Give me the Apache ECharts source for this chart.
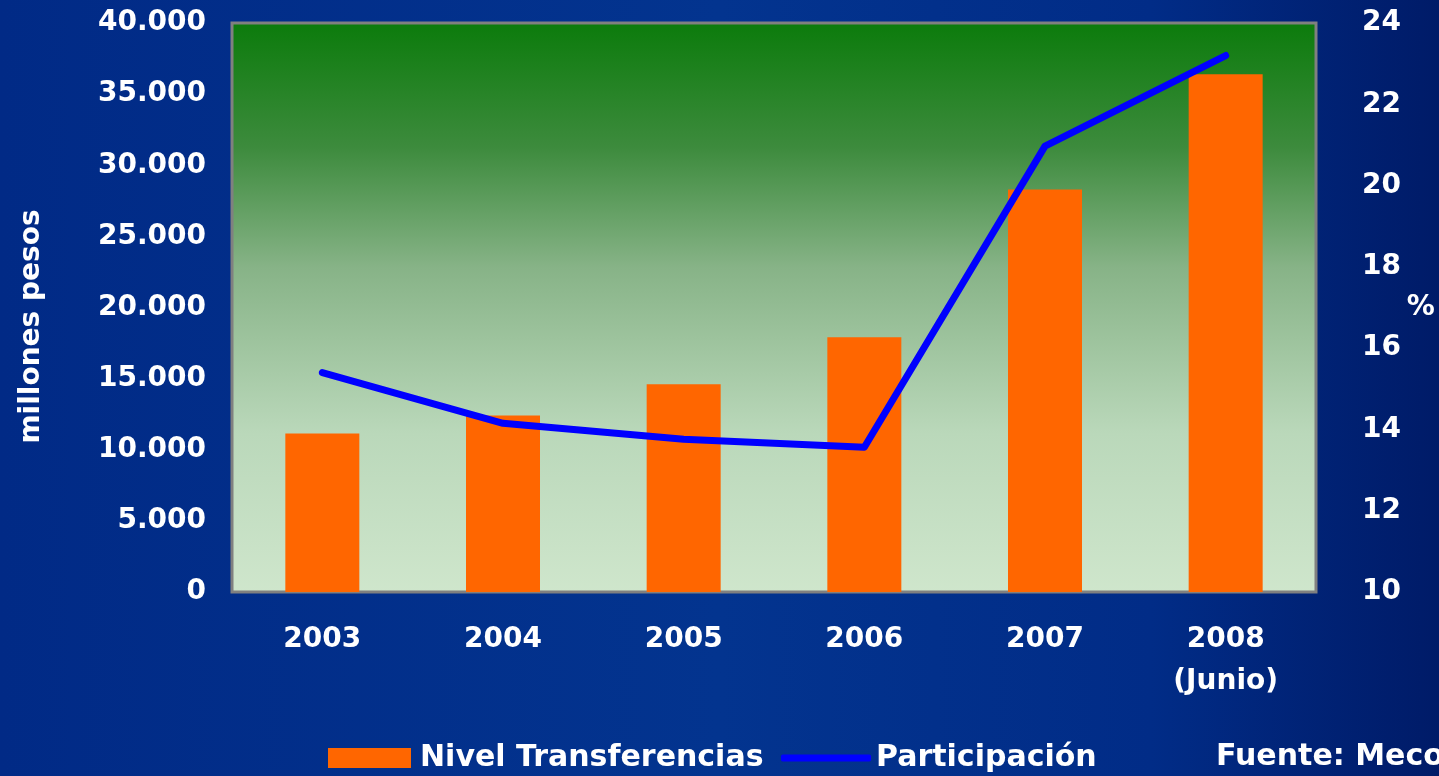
<!DOCTYPE html>
<html>
<head>
<meta charset="utf-8">
<title>Transferencias</title>
<script src="https://cdn.jsdelivr.net/npm/echarts@6/dist/echarts.min.js"></script>
<style>
html, body { margin: 0; padding: 0; }
#chart { width: 1439px; height: 776px; }
</style>
</head>
<body>
<div id="chart"></div>
<script>
// datos
const categories = ['2003', '2004', '2005', '2006', '2007', '2008\n(Junio)'];
const transferencias = [11150, 12400, 14600, 17900, 28300, 36400]; // millones pesos
const participacion = [15.4, 14.15, 13.76, 13.56, 20.97, 23.2];     // %
const leftTicks = { min: 0, max: 40000, interval: 5000 };
const rightTicks = { min: 10, max: 24, interval: 2 };

const FONT = 'DejaVu Sans';
const labelStyle = { color: '#fff', fontFamily: FONT, fontWeight: 'bold', fontSize: 28 };

const chart = echarts.init(document.getElementById('chart'));

const option = {
    backgroundColor: {
        type: 'linear', x: 0, y: 0, x2: 1, y2: 0,
        colorStops: [
            { offset: 0, color: '#012a86' },
            { offset: 0.5, color: '#03348f' },
            { offset: 0.8, color: '#012c87' },
            { offset: 1, color: '#001b68' }
        ]
    },
    grid: {
        left: 232, right: 123, top: 23, bottom: 184,
        outerBoundsMode: 'none',
        containLabel: false,
        show: true,
        borderColor: '#808080',
        borderWidth: 3,
        backgroundColor: {
            type: 'linear', x: 0, y: 0, x2: 0, y2: 1,
            colorStops: [
                { offset: 0, color: '#0b7b0b' },
                { offset: 0.22, color: '#3d8b3d' },
                { offset: 0.43, color: '#87b387' },
                { offset: 0.72, color: '#bad8ba' },
                { offset: 1, color: '#cfe6cc' }
            ]
        }
    },
    legend: [
        {
            data: ['Nivel Transferencias'],
            left: 328, top: 743,
            padding: 0,
            icon: 'rect',
            itemWidth: 83, itemHeight: 20, itemGap: 0,
            textStyle: Object.assign({}, labelStyle, { fontSize: 30, padding: [0, 0, 0, 4] })
        },
        {
            data: ['Participación'],
            left: 781, top: 743,
            padding: 0,
            icon: 'roundRect',
            itemWidth: 90, itemHeight: 7, itemGap: 0,
            textStyle: Object.assign({}, labelStyle, { fontSize: 30 })
        }
    ],
    graphic: [
        {
            type: 'text', left: 1216, top: 742,
            style: { text: 'Fuente: Meco', fill: '#fff', font: 'bold 30px "DejaVu Sans"' }
        }
    ],
    xAxis: {
        type: 'category',
        data: categories,
        boundaryGap: true,
        axisLine: { show: false },
        axisTick: { show: false },
        axisLabel: Object.assign({}, labelStyle, { margin: 27, lineHeight: 42, verticalAlign: 'top' })
    },
    yAxis: [
        {
            type: 'value',
            min: leftTicks.min, max: leftTicks.max, interval: leftTicks.interval,
            name: 'millones pesos',
            nameLocation: 'middle',
            nameGap: 186,
            nameTextStyle: Object.assign({}, labelStyle, { fontSize: 28, padding: [0, 38, 0, 0] }),
            axisLine: { show: false },
            axisTick: { show: false },
            splitLine: { show: false },
            axisLabel: Object.assign({}, labelStyle, {
                margin: 26,
                formatter: v => v === 0 ? '0' : v.toLocaleString('de-DE')
            })
        },
        {
            type: 'value',
            position: 'right',
            min: rightTicks.min, max: rightTicks.max, interval: rightTicks.interval,
            name: '%',
            nameLocation: 'middle',
            nameRotate: 0,
            nameGap: 82,
            nameTextStyle: Object.assign({}, labelStyle),
            axisLine: { show: false },
            axisTick: { show: false },
            splitLine: { show: false },
            axisLabel: Object.assign({}, labelStyle, { margin: 46 })
        }
    ],
    series: [
        {
            name: 'Nivel Transferencias',
            type: 'bar',
            data: transferencias,
            barWidth: 74,
            itemStyle: { color: '#ff6600' },
            silent: true
        },
        {
            name: 'Participación',
            type: 'line',
            yAxisIndex: 1,
            data: participacion,
            showSymbol: false,
            symbol: 'none',
            lineStyle: { color: '#0000ff', width: 7, cap: 'round', join: 'round' },
            itemStyle: { color: '#0000ff' },
            silent: true
        }
    ]
};

chart.setOption(option);
</script>
</body>
</html>
